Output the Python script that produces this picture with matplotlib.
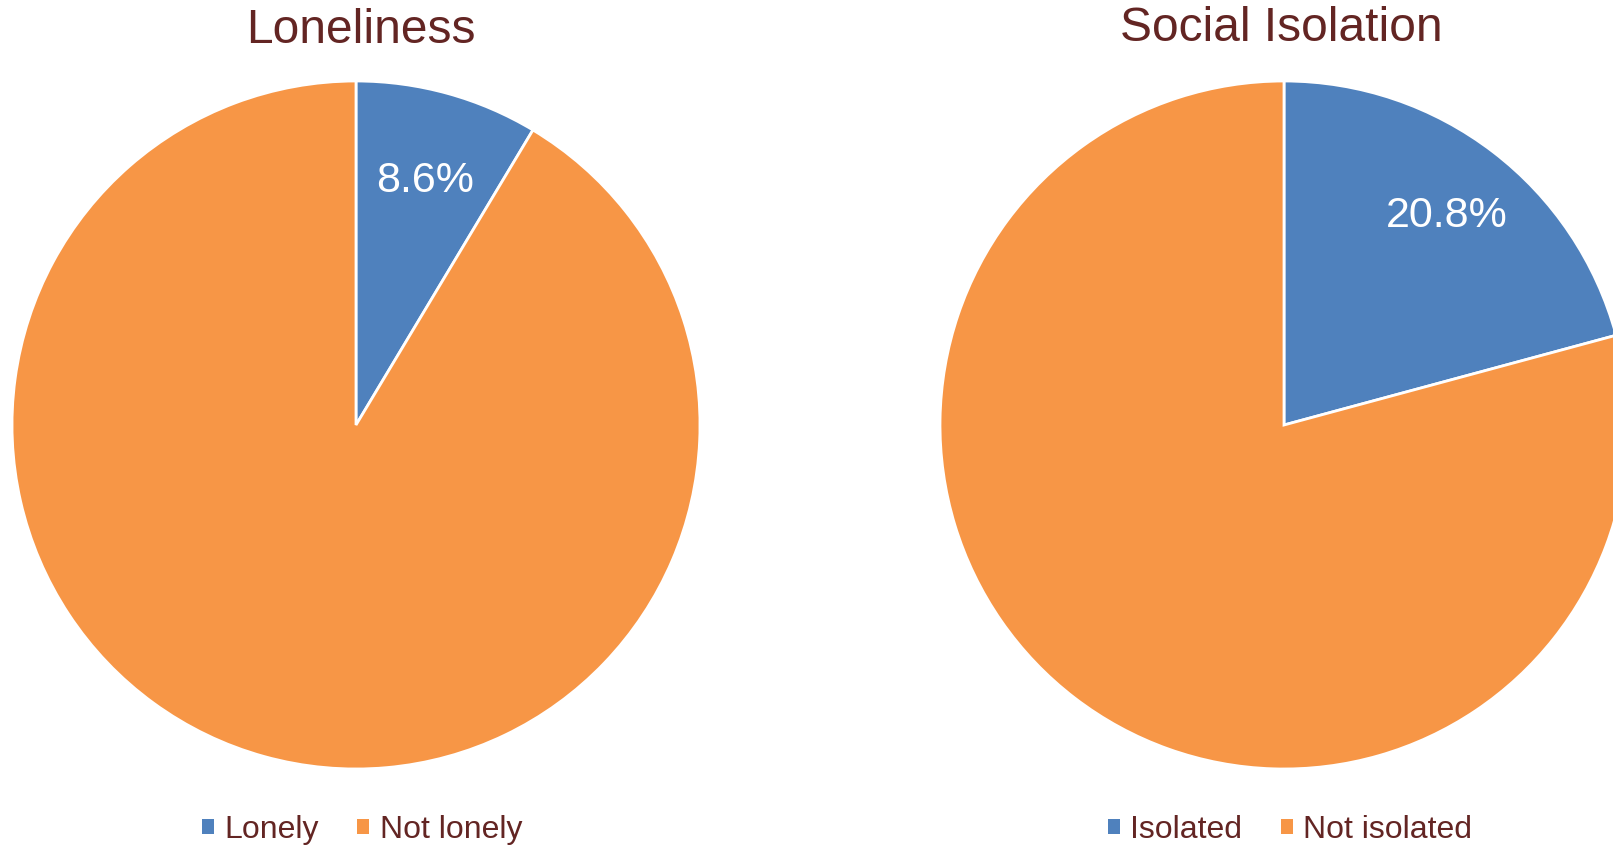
import matplotlib
matplotlib.use('Agg')
import matplotlib.pyplot as plt
from matplotlib.patches import Patch

plt.rcParams['font.family'] = ['Liberation Sans', 'DejaVu Sans']

# data
titles = ['Loneliness', 'Social Isolation']
labels_lonely = ['Lonely', 'Not lonely']
values_lonely = [8.6, 91.4]
labels_isolated = ['Isolated', 'Not isolated']
values_isolated = [20.8, 79.2]

blue = '#4F81BD'
orange = '#F79646'
dark_red = '#632523'

W, H = 1613, 847
fig = plt.figure(figsize=(W/100, H/100), dpi=100)

r = 344
centers = [(356, 425), (1284, 425)]


def draw_pie(cx, cy, values, labels, title, title_x, title_y, legend_cx, pctdist):
    ax = fig.add_axes([(cx - r)/W, (H - cy - r)/H, 2*r/W, 2*r/H])
    wedges, texts, autotexts = ax.pie(values, colors=[blue, orange], startangle=90,
                                      counterclock=False, radius=1,
                                      autopct='%1.1f%%', pctdistance=pctdist,
                                      wedgeprops=dict(edgecolor='white', linewidth=2))
    autotexts[1].set_visible(False)
    autotexts[0].set_color('white')
    autotexts[0].set_fontsize(31)
    autotexts[0].set_va('center_baseline')
    ax.set_xlim(-1, 1)
    ax.set_ylim(-1, 1)
    ax.set_aspect('auto')
    ax.axis('off')

    fig.text(title_x/W, 1 - title_y/H, title, ha='center', va='baseline',
             fontsize=34.5, color=dark_red)

    handles = [Patch(facecolor=blue, edgecolor='none'),
               Patch(facecolor=orange, edgecolor='none')]
    leg = fig.legend(handles, labels, loc='center', ncol=2,
                     bbox_to_anchor=(legend_cx/W, 1 - 830/H),
                     frameon=False, fontsize=23, handlelength=0.38, handleheight=0.38,
                     handletextpad=0.32, columnspacing=1.2, borderpad=0)
    for t in leg.get_texts():
        t.set_color(dark_red)


draw_pie(centers[0][0], centers[0][1], values_lonely, labels_lonely, titles[0],
         361, 43, 362, 0.75)
draw_pie(centers[1][0], centers[1][1], values_isolated, labels_isolated, titles[1],
         1281, 41, 1290, 0.78)

fig.savefig('out.png', dpi=100)
